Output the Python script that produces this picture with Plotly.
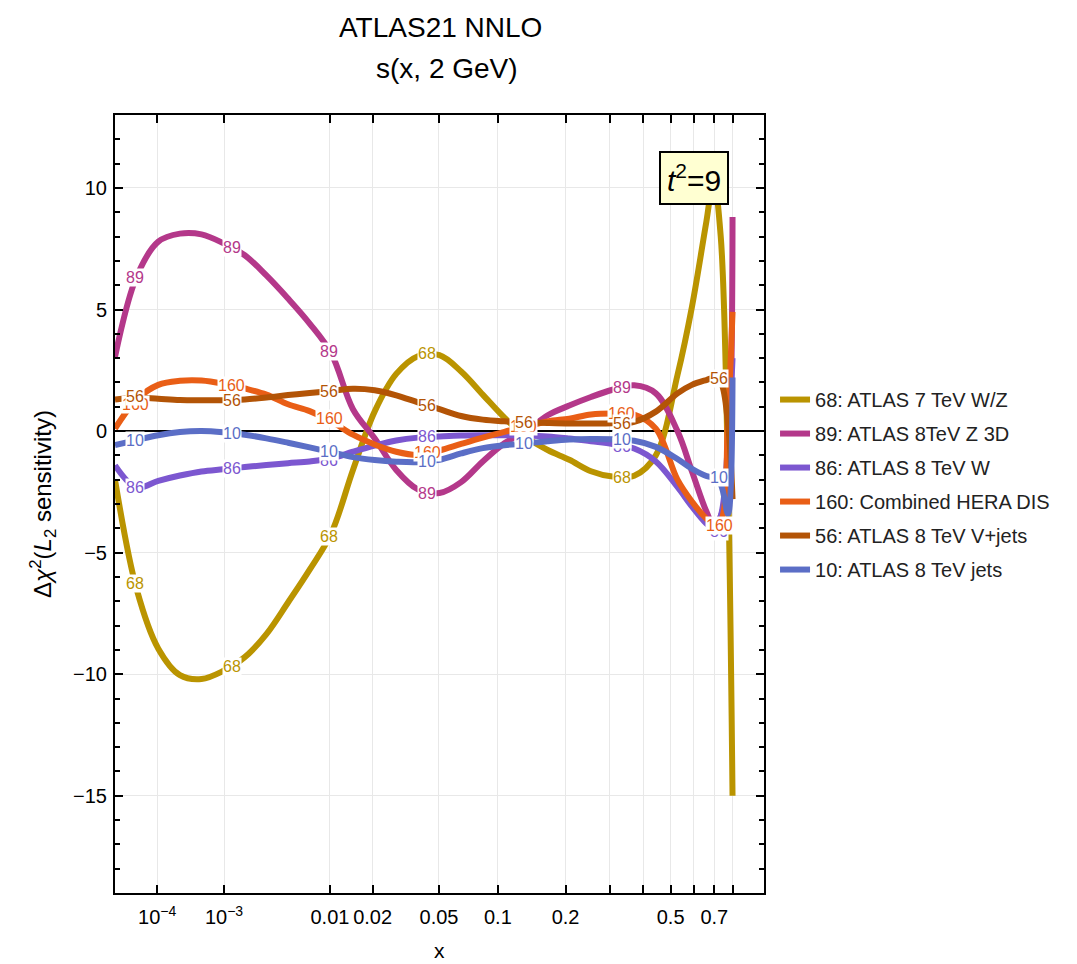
import numpy as np
import plotly.graph_objects as go

# ---------------- data ----------------
# sample positions along x, values of each curve at these x
x_vals = [1.0e-5, 3.71e-5, 1.05e-4, 2.48e-4, 5.15e-4, 9.77e-4, 1.72e-3, 2.86e-3, 4.54e-3,
          6.93e-3, 0.01024, 0.0147, 0.0206, 0.02825, 0.03802, 0.05033, 0.06564, 0.08446,
          0.1074, 0.135, 0.1681, 0.2073, 0.2536, 0.3077, 0.3707, 0.4437, 0.5277, 0.5905,
          0.6591, 0.6957, 0.7339, 0.7738, 0.80]

y_68 = [-2.0, -6.5, -8.95, -10.04, -10.2, -9.87, -9.3, -8.35, -7.05,
        -5.7, -4.2, -1.6, 0.8, 2.35, 3.08, 3.12, 2.45, 1.5,
        0.55, -0.25, -0.78, -1.18, -1.65, -1.87, -1.84, -1.0, 2.3, 5.1,
        8.6, 10.3, 8.0, -1.8, -15.0]
y_89 = [3.05, 6.35, 7.79, 8.12, 8.09, 7.73, 7.23, 6.4, 5.45,
        4.42, 3.19, 0.9, -0.3, -1.6, -2.4, -2.55, -2.1, -1.25,
        -0.5, 0.0, 0.65, 1.05, 1.4, 1.7, 1.88, 1.55, 0.0, -1.65,
        -3.3, -3.85, -3.5, -1.5, 8.8]
y_86 = [-1.41, -2.32, -2.05, -1.83, -1.66, -1.57, -1.48, -1.40, -1.32,
        -1.25, -1.12, -0.85, -0.6, -0.39, -0.27, -0.22, -0.18, -0.17,
        -0.17, -0.18, -0.22, -0.31, -0.42, -0.53, -0.72, -1.25, -2.3, -3.1,
        -3.8, -4.0, -3.5, -0.5, 3.0]
y_160 = [0.1, 1.3, 1.9, 2.07, 2.08, 1.95, 1.75, 1.5, 1.1,
         0.82, 0.4, -0.15, -0.55, -0.85, -0.98, -0.8, -0.53, -0.27,
         -0.03, 0.18, 0.4, 0.51, 0.68, 0.72, 0.68, 0.1, -2.0, -2.9,
         -3.6, -3.85, -3.7, 0.5, 4.9]
y_56 = [1.3, 1.38, 1.33, 1.28, 1.27, 1.27, 1.3, 1.38, 1.48,
        1.57, 1.65, 1.74, 1.68, 1.47, 1.18, 0.9, 0.62, 0.47,
        0.4, 0.36, 0.33, 0.31, 0.31, 0.32, 0.38, 0.8, 1.55, 1.9,
        2.1, 2.18, 2.0, 0.3, -2.8]
y_10 = [-0.58, -0.37, -0.17, -0.04, 0.0, -0.05, -0.15, -0.3, -0.48,
        -0.67, -0.87, -1.07, -1.19, -1.26, -1.28, -1.18, -0.92, -0.7,
        -0.58, -0.51, -0.42, -0.35, -0.33, -0.34, -0.4, -0.65, -1.15, -1.55,
        -1.85, -1.93, -2.2, -3.4, 2.2]

series_ids = ["68", "89", "86", "160", "56", "10"]
series_names = ["68: ATLAS 7 TeV W/Z", "89: ATLAS 8TeV Z 3D", "86: ATLAS 8 TeV W",
                "160: Combined HERA DIS", "56: ATLAS 8 TeV V+jets", "10: ATLAS 8 TeV jets"]
series_colors = ["#BA9400", "#B4388A", "#7C57D0", "#E95E16", "#B35406", "#5B6EC6"]
series_values = [y_68, y_89, y_86, y_160, y_56, y_10]

# curve-label positions (x) and the curve value at each label (None = hidden)
label_x = [3.4e-5, 1.23e-3, 0.00988, 0.0429, 0.132, 0.333, 0.725]
label_68 = [-6.25, -9.7, -4.35, 3.19, None, -1.89, None]
label_89 = [6.31, 7.55, 3.28, -2.57, None, 1.79, None]
label_86 = [-2.32, -1.54, -1.2, -0.24, -0.1, -0.65, -4.15]
label_160 = [1.1, 1.88, 0.51, -0.9, 0.17, 0.72, -3.87]
label_56 = [1.42, 1.27, 1.64, 1.06, 0.37, 0.33, 2.16]
label_10 = [-0.38, -0.1, -0.82, -1.27, -0.51, -0.35, -1.93]
label_values = [label_68, label_89, label_86, label_160, label_56, label_10]

tick_x = [1e-4, 1e-3, 0.01, 0.02, 0.05, 0.1, 0.2, 0.3, 0.4, 0.5, 0.6, 0.7, 0.8]
tick_text = ["10<sup>\u22124</sup>", "10<sup>\u22123</sup>", "0.01", "0.02", "0.05", "0.1", "0.2",
             "", "", "0.5", "", "0.7", ""]
y_ticks = [-15, -10, -5, 0, 5, 10]

# x axis scale: x^0.2
POW = 0.2
def fwd(v):
    return np.power(np.asarray(v, dtype=float), POW)

FONT = "Liberation Sans, Arial, Helvetica, sans-serif"

fig = go.Figure()
for sid, name, col, ys in zip(series_ids, series_names, series_colors, series_values):
    fig.add_trace(go.Scatter(
        x=fwd(x_vals), y=ys, mode="lines", name=name, legendgroup=sid,
        line=dict(color=col, width=6, shape="spline", smoothing=1.0),
        hoverinfo="skip"))

annotations = []
for sid, col, labs in zip(series_ids, series_colors, label_values):
    for lx, ly in zip(label_x, labs):
        if ly is None:
            continue
        annotations.append(dict(
            x=float(fwd(lx)), y=ly, xref="x", yref="y", text=sid, showarrow=False,
            font=dict(family=FONT, size=16, color=col), bgcolor="white", borderpad=0,
            xanchor="center", yanchor="middle"))

# t^2 box
annotations.append(dict(
    x=0.892, y=0.919, xref="paper", yref="paper", showarrow=False,
    text="<i>t</i><sup>2</sup>=9", font=dict(family=FONT, size=30, color="black"),
    bgcolor="#FFFFD2", bordercolor="black", borderwidth=2, borderpad=6,
    xanchor="center", yanchor="middle"))

# titles
annotations.append(dict(x=0.5008, y=1.113, xref="paper", yref="paper", showarrow=False,
                        text="ATLAS21 NNLO", font=dict(family=FONT, size=28, color="black"),
                        xanchor="center", yanchor="middle"))
annotations.append(dict(x=0.5116, y=1.0604, xref="paper", yref="paper", showarrow=False,
                        text="s(x, 2 GeV)", font=dict(family=FONT, size=28, color="black"),
                        xanchor="center", yanchor="middle"))
# axis titles
annotations.append(dict(x=-0.111, y=0.5, xref="paper", yref="paper", showarrow=False,
                        text="\u0394<i>\u03c7</i><sup>2</sup>(<i>L</i><sub>2</sub> sensitivity)",
                        textangle=-90, font=dict(family=FONT, size=24, color="black"),
                        xanchor="center", yanchor="middle"))
annotations.append(dict(x=0.5, y=-0.0733, xref="paper", yref="paper", showarrow=False,
                        text="x", font=dict(family=FONT, size=21, color="black"),
                        xanchor="center", yanchor="middle"))

fig.update_layout(
    width=1077, height=964, autosize=False,
    margin=dict(l=115, r=313, t=115, b=71, pad=0),
    paper_bgcolor="white", plot_bgcolor="white",
    font=dict(family=FONT, color="black"),
    showlegend=True,
    legend=dict(x=1.017, y=0.525, xanchor="left", yanchor="middle",
                font=dict(family=FONT, size=20, color="#222222"),
                tracegroupgap=5, bgcolor="rgba(0,0,0,0)", itemwidth=30),
    annotations=annotations,
)

fig.update_xaxes(
    range=[0.1, 1.0], tickmode="array", tickvals=fwd(tick_x), ticktext=tick_text,
    tickangle=0,
    ticks="inside", ticklen=8, tickwidth=1.5, tickcolor="black",
    showline=True, linecolor="black", linewidth=2, mirror="allticks",
    showgrid=True, gridcolor="#E8E8E8", gridwidth=1, zeroline=False,
    tickfont=dict(family=FONT, size=20, color="black"), ticklabelstandoff=5)

fig.update_yaxes(
    range=[-19, 13], tickmode="array", tickvals=y_ticks,
    ticks="inside", ticklen=8, tickwidth=1.5, tickcolor="black",
    minor=dict(dtick=1, tick0=0, ticks="inside", ticklen=5, tickwidth=1.5,
               tickcolor="black", showgrid=False),
    showline=True, linecolor="black", linewidth=2, mirror="allticks",
    showgrid=True, gridcolor="#E8E8E8", gridwidth=1,
    zeroline=True, zerolinecolor="black", zerolinewidth=2,
    tickfont=dict(family=FONT, size=20, color="black"), ticklabelstandoff=2)

fig.write_html("out.html")
